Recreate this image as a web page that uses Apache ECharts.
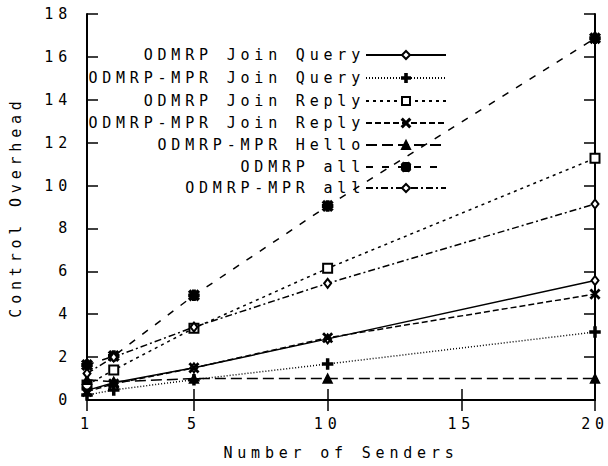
<!DOCTYPE html>
<html><head><meta charset="utf-8">
<script src="https://cdn.jsdelivr.net/npm/echarts@6/dist/echarts.min.js"></script>
<style>
html,body{margin:0;padding:0;background:#fff;}
#c{width:608px;height:466px;letter-spacing:4.8px;}
</style></head><body><div id="c"></div>
<script>
const senders = [1, 2, 5, 10, 20];
const xTicks = [1, 5, 10, 15, 20];
const seriesNames = ['ODMRP Join Query', 'ODMRP-MPR Join Query', 'ODMRP Join Reply', 'ODMRP-MPR Join Reply', 'ODMRP-MPR Hello', 'ODMRP all', 'ODMRP-MPR all'];
const odmrpJoinQuery = [0.45, 0.8, 1.5, 2.85, 5.57];
const mprJoinQuery = [0.23, 0.47, 0.95, 1.68, 3.17];
const odmrpJoinReply = [0.7, 1.4, 3.35, 6.14, 11.27];
const mprJoinReply = [0.39, 0.75, 1.5, 2.9, 4.94];
const mprHello = [0.95, 0.85, 1.0, 1.0, 1.0];
const odmrpAll = [1.63, 2.05, 4.88, 9.05, 16.87];
const mprAll = [1.24, 2.0, 3.4, 5.44, 9.14];
const values = [odmrpJoinQuery, mprJoinQuery, odmrpJoinReply, mprJoinReply, mprHello, odmrpAll, mprAll];

const FONT = 'DejaVu Sans Mono';
const plusPath = 'path://M4,0H6V4H10V6H6V10H4V6H0V4H4Z';
const xPath = 'path://M1,0L5,4L9,0L10,1L6,5L10,9L9,10L5,6L1,10L0,9L4,5L0,1Z';
const starPath = 'path://M3.8,0H6.2V3.8H10V6.2H6.2V10H3.8V6.2H0V3.8H3.8Z M1.5,0L5,3.5L8.5,0L10,1.5L6.5,5L10,8.5L8.5,10L5,6.5L1.5,10L0,8.5L3.5,5L0,1.5Z';
const styles = [
  {sym: 'emptyDiamond', size: [7, 9], dash: 'solid'},
  {sym: plusPath, size: 10, dash: [1, 2]},
  {sym: 'emptyRect', size: 9, dash: [3, 4]},
  {sym: xPath, size: 9, dash: [6, 3]},
  {sym: 'triangle', size: 9, dash: [11, 5]},
  {sym: starPath, size: 10, dash: [7, 9]},
  {sym: 'emptyDiamond', size: [7, 9], dash: [7, 3, 2, 3]}
];
const legendCenters = [55, 78, 101, 123, 145, 167, 188];

const series = seriesNames.map((name, i) => ({
  name: name,
  type: 'line',
  data: senders.map((x, j) => [x, values[i][j]]),
  symbol: styles[i].sym,
  symbolSize: styles[i].size,
  showSymbol: true,
  animation: false,
  lineStyle: {color: '#000', width: 1.5, type: styles[i].dash},
  itemStyle: {color: '#000', borderColor: '#000', borderWidth: 1.5},
  z: 3
}));

const legends = seriesNames.map((name, i) => ({
  data: [name],
  orient: 'vertical',
  right: 161,
  top: legendCenters[i] - 7.5,
  align: 'right',
  padding: 0,
  itemWidth: 80,
  itemHeight: 10,
  selectedMode: false,
  textStyle: {fontFamily: FONT, fontSize: 15, color: '#000', padding: [0, -4, 0, 0]}
}));

const axisLine = {show: true, lineStyle: {color: '#000', width: 2}};
const tick = {show: true, inside: true, length: 11, lineStyle: {color: '#000', width: 1.5}};

const chart = echarts.init(document.getElementById('c'), null, {renderer: 'svg'});
chart.setOption({
  backgroundColor: '#fff',
  animation: false,
  legend: legends,
  grid: {left: 83, right: 13, top: 14, bottom: 66, containLabel: false},
  xAxis: [
    {type: 'value', min: 1, max: 20, position: 'bottom',
     name: 'Number of Senders', nameLocation: 'middle', nameGap: 45,
     nameTextStyle: {fontFamily: FONT, fontSize: 15, color: '#000'},
     axisLine: axisLine,
     axisTick: Object.assign({}, tick, {customValues: xTicks}),
     axisLabel: {customValues: xTicks, fontFamily: FONT, fontSize: 15, color: '#000', margin: 16},
     splitLine: {show: false}},
    {type: 'value', min: 1, max: 20, position: 'top',
     axisLine: axisLine,
     axisTick: Object.assign({}, tick, {customValues: xTicks}),
     axisLabel: {show: false},
     splitLine: {show: false}}
  ],
  yAxis: [
    {type: 'value', min: 0, max: 18, interval: 2, position: 'left',
     name: 'Control Overhead', nameLocation: 'middle', nameGap: 64, nameRotate: 90,
     nameTextStyle: {fontFamily: FONT, fontSize: 15, color: '#000'},
     axisLine: axisLine, axisTick: tick,
     axisLabel: {fontFamily: FONT, fontSize: 15, color: '#000', margin: 15},
     splitLine: {show: false}},
    {type: 'value', min: 0, max: 18, interval: 2, position: 'right',
     axisLine: axisLine, axisTick: tick,
     axisLabel: {show: false},
     splitLine: {show: false}}
  ],
  series: series
});
</script></body></html>
